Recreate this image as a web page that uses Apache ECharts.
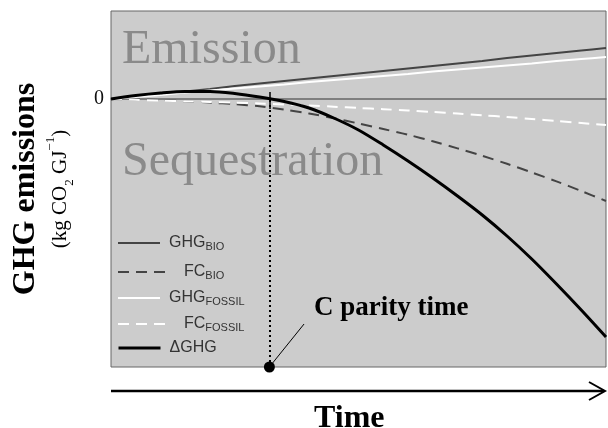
<!DOCTYPE html>
<html>
<head>
<meta charset="utf-8">
<script src="https://cdn.jsdelivr.net/npm/echarts@6/dist/echarts.min.js"></script>
<style>
  html, body { margin: 0; padding: 0; background: #fff; }
  #main { width: 608px; height: 428px; }
</style>
</head>
<body>
<div id="main"></div>
<script>
// time axis (arbitrary units) and curves
var time = [0, 5, 10, 15, 20, 25, 30, 35, 40, 45, 50, 55, 60, 65, 70, 75, 80, 85, 90, 95, 100]
var ghgBio = [0, 2.5, 5, 7.5, 10, 13, 15.5, 18, 20.5, 23, 25.5, 28, 30.5, 33, 35.5, 38, 41, 43.5, 46, 48.5, 51]
var fcBio = [0, -0.5, -1.2, -2.3, -3.6, -5.2, -7.3, -10.5, -14.5, -19.2, -24.5, -30, -35.7, -42.3, -49.4, -56.8, -64.8, -73.4, -82.4, -92, -102]
var ghgFossil = [0, 2, 4, 6.5, 8.5, 10.5, 12.5, 14.5, 17, 19, 21, 23, 25, 27.5, 29.5, 31.5, 33.5, 35.5, 38, 40, 42]
var fcFossil = [0, -0.8, -1.6, -2.3, -3, -3.7, -4.4, -5.4, -6.4, -7.7, -9, -10.2, -11.5, -13, -14.5, -16.2, -18, -20, -22, -24, -26]
var deltaGhg = [0, 3.5, 6, 7.5, 7.5, 5.5, 2, -2.5, -9, -19, -31, -46, -62, -79, -97, -116, -137, -160, -185, -211, -238]
var parityTime = 32
var annotEnd = [39, -225]
var yMin = -268
var yMax = 88
var yTicks = [0]

var names = ['GHG_BIO', 'FC_BIO', 'GHG_FOSSIL', 'FC_FOSSIL', 'dGHG']
var legendRows = [243, 272, 298, 324, 348]

var serif = 'Liberation Serif'
var sans = 'Liberation Sans'

function pairs(vals) {
  return time.map(function (t, i) { return [t, vals[i]] })
}

var styles = {
  GHG_BIO: { color: '#444', width: 2, type: 'solid' },
  FC_BIO: { color: '#444', width: 2, type: [11, 7] },
  GHG_FOSSIL: { color: '#fff', width: 2, type: 'solid' },
  FC_FOSSIL: { color: '#fff', width: 2, type: [11, 7] },
  dGHG: { color: '#000', width: 3, type: 'solid' }
}
var values = {
  GHG_BIO: ghgBio,
  FC_BIO: fcBio,
  GHG_FOSSIL: ghgFossil,
  FC_FOSSIL: fcFossil,
  dGHG: deltaGhg
}

function legendLabel(name) {
  if (name == 'dGHG') return '{m|ΔGHG}'
  var p = name.split('_')
  var main = p[0] == 'FC' ? 'f' : 'm'
  return '{' + main + '|' + p[0] + '}{s|' + p[1] + '}'
}

var legends = names.map(function (n, i) {
  var isFC = n.indexOf('FC') == 0
  return {
    data: [n],
    left: 117,
    top: legendRows[i] - 8,
    padding: 0,
    itemWidth: isFC ? 47 : 42,
    itemHeight: 14,
    selectedMode: false,
    lineStyle: styles[n],
    itemStyle: { color: 'rgba(0,0,0,0)', borderWidth: 0 },
    formatter: legendLabel,
    textStyle: {
      rich: {
        m: { fontFamily: sans, fontSize: 16, color: '#333', padding: [0, 0, 0, 4] },
        f: { fontFamily: sans, fontSize: 16, color: '#333', padding: [0, 0, 0, 14] },
        s: { fontFamily: sans, fontSize: 11, color: '#333', verticalAlign: 'bottom', padding: [8, 0, 0, 0] }
      }
    }
  }
})

var series = names.map(function (n) {
  var s = {
    name: n,
    type: 'line',
    data: pairs(values[n]),
    smooth: 0.3,
    symbol: 'none',
    silent: true,
    lineStyle: styles[n],
    itemStyle: { color: styles[n].color }
  }
  if (n == 'dGHG') {
    s.z = 5
    s.markLine = {
      silent: true,
      symbol: 'none',
      label: { show: false },
      data: [
        [{ coord: [parityTime, yMin], lineStyle: { color: '#000', width: 2, type: [2, 3] } },
         { coord: [parityTime, 0] }],
        [{ coord: [parityTime, 7], lineStyle: { color: '#000', width: 1.5, type: 'solid' } },
         { coord: [parityTime, -10] }],
        [{ coord: [parityTime, yMin], lineStyle: { color: '#000', width: 1, type: 'solid' } },
         { coord: annotEnd }]
      ]
    }
    s.markPoint = {
      silent: true,
      symbol: 'circle',
      symbolSize: 11,
      itemStyle: { color: '#000' },
      label: { show: false },
      data: [{ coord: [parityTime, yMin] }]
    }
  }
  return s
})

var chart = echarts.init(document.getElementById('main'), null, { renderer: 'canvas' })

chart.setOption({
  animation: false,
  backgroundColor: '#fff',
  grid: {
    left: 111, top: 11, right: 2, bottom: 61,
    outerBoundsMode: 'none',
    show: true,
    backgroundColor: '#cccccc',
    borderColor: '#666',
    borderWidth: 1
  },
  legend: legends,
  xAxis: {
    type: 'value', min: 0, max: 100,
    axisLine: { onZero: true, lineStyle: { color: '#666', width: 1.5 } },
    axisTick: { show: false },
    axisLabel: { show: false },
    splitLine: { show: false }
  },
  yAxis: {
    type: 'value', min: yMin, max: yMax,
    axisLine: { show: false },
    axisTick: { show: false },
    splitLine: { show: false },
    axisLabel: { customValues: yTicks, fontFamily: serif, fontSize: 20, color: '#111', margin: 7 },
    name: '{t|GHG emissions}\n{u|(kg CO}{s|2}{u| GJ}{p|−1}{u|)}',
    nameLocation: 'middle',
    nameGap: 35,
    nameTextStyle: {
      rich: {
        t: { fontFamily: serif, fontWeight: 'bold', fontSize: 32, lineHeight: 36, color: '#000' },
        u: { fontFamily: serif, fontSize: 21, lineHeight: 32, color: '#000' },
        s: { fontFamily: serif, fontSize: 13, lineHeight: 32, color: '#000', verticalAlign: 'bottom', padding: [8, 0, 0, 0] },
        p: { fontFamily: serif, fontSize: 13, lineHeight: 32, color: '#000', verticalAlign: 'top', padding: [0, 0, 8, 0] }
      }
    }
  },
  graphic: [
    { type: 'text', left: 122, top: 26, silent: true,
      style: { text: 'Emission', font: '48px "Liberation Serif"', fill: '#8a8a8a' } },
    { type: 'text', left: 122, top: 138, silent: true,
      style: { text: 'Sequestration', font: '48px "Liberation Serif"', fill: '#8a8a8a' } },
    { type: 'text', left: 314, top: 295, silent: true,
      style: { text: 'C parity time', font: 'bold 27px "Liberation Serif"', fill: '#000' } },
    { type: 'line', silent: true,
      shape: { x1: 111, y1: 391, x2: 604, y2: 391 },
      style: { stroke: '#000', lineWidth: 2.5 } },
    { type: 'polyline', silent: true,
      shape: { points: [[589, 382], [605, 391], [589, 400]] },
      style: { stroke: '#000', lineWidth: 2, fill: null } },
    { type: 'text', left: 314, top: 403, silent: true,
      style: { text: 'Time', font: 'bold 32px "Liberation Serif"', fill: '#000' } }
  ],
  series: series
})
</script>
</body>
</html>
